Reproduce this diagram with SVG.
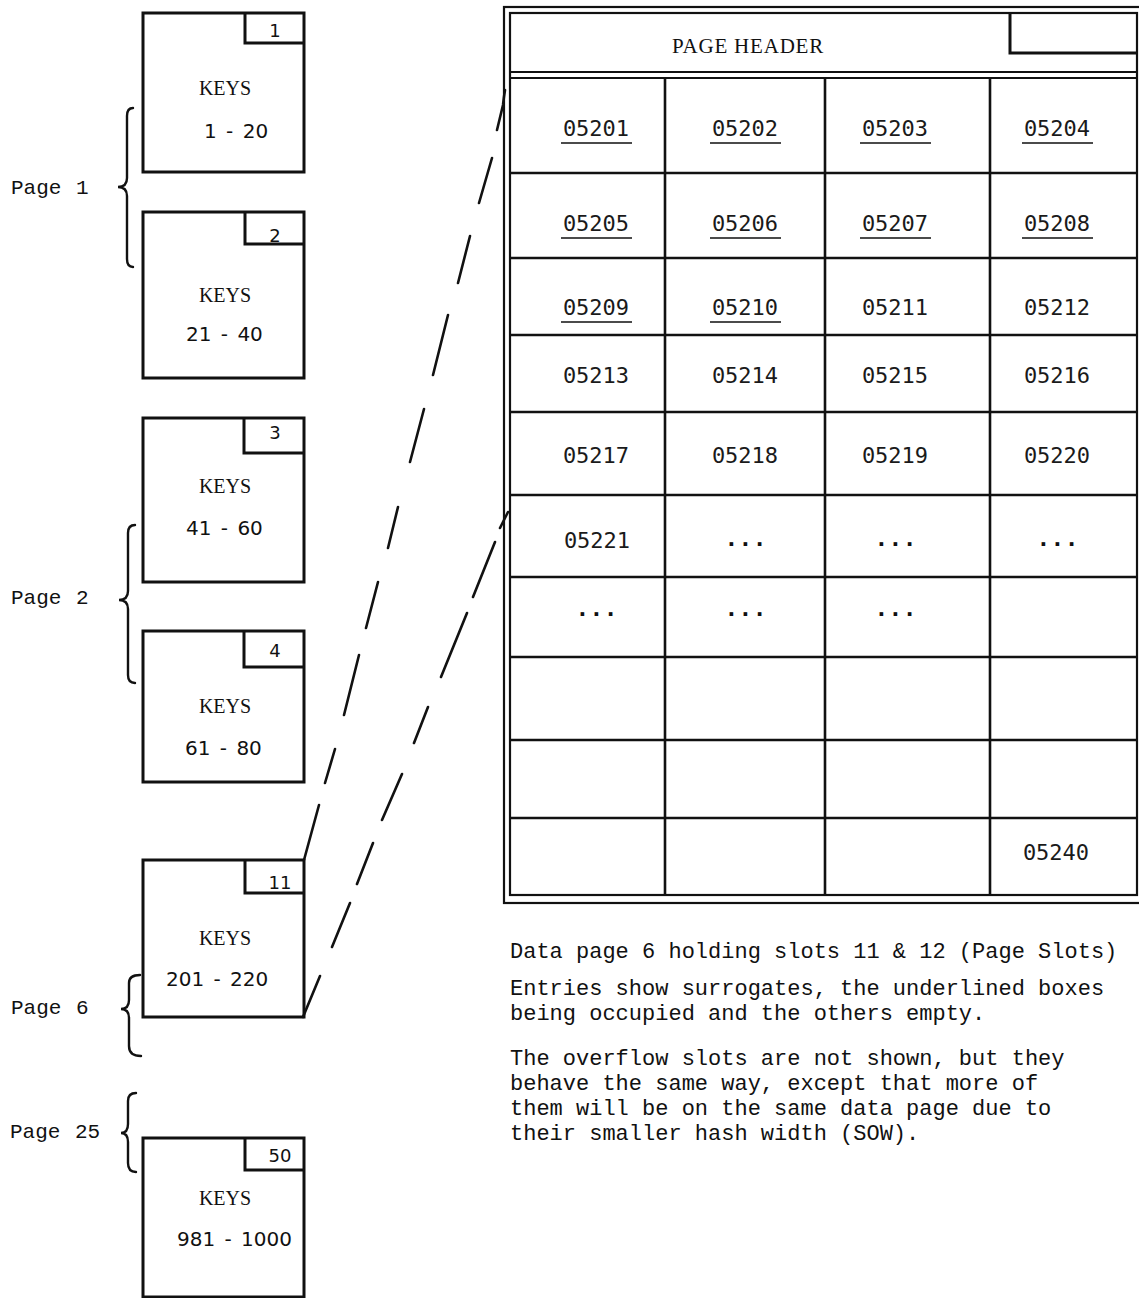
<svg xmlns="http://www.w3.org/2000/svg" width="1139" height="1298" viewBox="0 0 1139 1298">
<style>
.bx{fill:#fff;stroke:#111;stroke-width:3;stroke-linejoin:miter}
.ln{fill:none;stroke:#111;stroke-width:3}
.gl{fill:none;stroke:#111;stroke-width:2.6}
.db{fill:none;stroke:#111;stroke-width:2.2}
.keys{font-family:"Liberation Serif",serif;font-size:20px;fill:#111;text-anchor:middle}
.rng{font-family:"DejaVu Sans",sans-serif;font-size:20px;fill:#111;word-spacing:3px}
.num{font-family:"DejaVu Sans",sans-serif;font-size:18px;fill:#111;text-anchor:middle}
.pg{font-family:"Liberation Mono",monospace;font-size:21px;fill:#111;word-spacing:2px}
.cell{font-family:"DejaVu Sans Mono",monospace;font-size:22px;fill:#1a1a1a;text-anchor:middle}
.dots{font-family:"DejaVu Sans Mono",monospace;font-size:22px;font-weight:bold;fill:#111;text-anchor:middle;letter-spacing:1px}
.ul{stroke:#111;stroke-width:1.7}
.note{font-family:"Liberation Mono",monospace;font-size:22px;fill:#111}
.hdr{font-family:"Liberation Serif",serif;font-size:21px;fill:#111;text-anchor:middle;letter-spacing:0.8px}
.brace{fill:none;stroke:#111;stroke-width:2.4;stroke-linecap:round}
.conn{fill:none;stroke:#111;stroke-width:2.6;stroke-linecap:round}
</style>

<!-- key boxes -->
<g id="box1">
<rect class="bx" x="143" y="13" width="161" height="159"/>
<path class="ln" d="M245 13V43H304"/>
<text class="num" x="275" y="37">1</text>
<text class="keys" x="225" y="95">KEYS</text>
<text class="rng" x="204" y="138">1 - 20</text>
</g>
<g id="box2">
<rect class="bx" x="143" y="212" width="161" height="166"/>
<path class="ln" d="M245 212V244H304"/>
<text class="num" x="275" y="242">2</text>
<text class="keys" x="225" y="302">KEYS</text>
<text class="rng" x="186" y="341">21 - 40</text>
</g>
<g id="box3">
<rect class="bx" x="143" y="418" width="161" height="164"/>
<path class="ln" d="M244 418V453H304"/>
<text class="num" x="275" y="439">3</text>
<text class="keys" x="225" y="493">KEYS</text>
<text class="rng" x="186" y="535">41 - 60</text>
</g>
<g id="box4">
<rect class="bx" x="143" y="631" width="161" height="151"/>
<path class="ln" d="M244 631V667H304"/>
<text class="num" x="275" y="657">4</text>
<text class="keys" x="225" y="713">KEYS</text>
<text class="rng" x="185" y="755">61 - 80</text>
</g>
<g id="box11">
<rect class="bx" x="143" y="860" width="161" height="157"/>
<path class="ln" d="M245 860V893H304"/>
<text class="num" x="280" y="889">11</text>
<text class="keys" x="225" y="945">KEYS</text>
<text class="rng" x="166" y="986">201 - 220</text>
</g>
<g id="box50">
<rect class="bx" x="143" y="1138" width="161" height="159"/>
<path class="ln" d="M245 1138V1170H304"/>
<text class="num" x="280" y="1162">50</text>
<text class="keys" x="225" y="1205">KEYS</text>
<text class="rng" x="177" y="1246">981 - 1000</text>
</g>

<!-- page braces -->
<g id="page1">
<path class="brace" d="M133 108Q127 108 127 116V178Q127 187 118 187Q127 187 127 196V259Q127 267 133 267"/>
<text class="pg" x="11" y="194">Page 1</text>
</g>
<g id="page2">
<path class="brace" d="M135 525Q128 525 128 533V591Q128 600 119 600Q128 600 128 609V675Q128 683 135 683"/>
<text class="pg" x="11" y="604">Page 2</text>
</g>
<g id="page6">
<path class="brace" d="M140 975Q129 975 129 983V1000Q129 1009 121 1009Q129 1009 129 1018V1046Q129 1056 141 1056"/>
<text class="pg" x="11" y="1014">Page 6</text>
</g>
<g id="page25">
<path class="brace" d="M136 1093Q128 1093 128 1101V1124Q128 1133 121 1133Q128 1133 128 1142V1163Q128 1172 136 1172"/>
<text class="pg" x="10" y="1138">Page 25</text>
</g>

<!-- data page -->
<g id="datapage">
<rect class="db" x="504" y="7" width="645" height="896"/>
<rect class="db" x="510" y="13" width="627" height="882"/>
<path class="db" d="M510 72H1137M510 78H1137"/>
<path class="ln" d="M1010 13V53H1137"/>
<text class="hdr" x="748" y="53">PAGE HEADER</text>
<path class="gl" d="M665 78V895M825 78V895M990 78V895"/>
<path class="gl" d="M510 173H1137M510 258H1137M510 335H1137M510 412H1137M510 495H1137M510 577H1137M510 657H1137M510 740H1137M510 818H1137"/>
</g>

<g id="cells">
<text class="cell" x="596" y="136">05201</text>
<text class="cell" x="745" y="136">05202</text>
<text class="cell" x="895" y="136">05203</text>
<text class="cell" x="1057" y="136">05204</text>
<text class="cell" x="596" y="231">05205</text>
<text class="cell" x="745" y="231">05206</text>
<text class="cell" x="895" y="231">05207</text>
<text class="cell" x="1057" y="231">05208</text>
<text class="cell" x="596" y="315">05209</text>
<text class="cell" x="745" y="315">05210</text>
<text class="cell" x="895" y="315">05211</text>
<text class="cell" x="1057" y="315">05212</text>
<text class="cell" x="596" y="383">05213</text>
<text class="cell" x="745" y="383">05214</text>
<text class="cell" x="895" y="383">05215</text>
<text class="cell" x="1057" y="383">05216</text>
<text class="cell" x="596" y="463">05217</text>
<text class="cell" x="745" y="463">05218</text>
<text class="cell" x="895" y="463">05219</text>
<text class="cell" x="1057" y="463">05220</text>
<text class="cell" x="597" y="548">05221</text>
<text class="dots" x="746" y="546">...</text>
<text class="dots" x="896" y="546">...</text>
<text class="dots" x="1058" y="546">...</text>
<text class="dots" x="597" y="616">...</text>
<text class="dots" x="746" y="616">...</text>
<text class="dots" x="896" y="616">...</text>
<text class="cell" x="1056" y="860">05240</text>
<path class="ul" d="M561 143H632M710 143H781M860 143H931M1022 143H1093M561 238H632M710 238H781M860 238H931M1022 238H1093M561 322H632M710 322H781"/>
</g>

<g id="notes">
<text class="note" x="510" y="958">Data page 6 holding slots 11 &amp; 12 (Page Slots)</text>
<text class="note" x="510" y="995">Entries show surrogates, the underlined boxes</text>
<text class="note" x="510" y="1020">being occupied and the others empty.</text>
<text class="note" x="510" y="1065">The overflow slots are not shown, but they</text>
<text class="note" x="510" y="1090">behave the same way, except that more of</text>
<text class="note" x="510" y="1115">them will be on the same data page due to</text>
<text class="note" x="510" y="1140">their smaller hash width (SOW).</text>
</g>

<g id="connectors">
<path class="conn" d="M304 860L319 805M325 783L335 749M344 715L359 655M366 628L378 582M388 548L398 507M410 462L424 409M433 375L448 315M458 283L470 236M479 203L492 158M497 130L503 105Q504 96 505 90"/>
<path class="conn" d="M303 1017L320 976M332 947L350 903M357 884L373 843M382 820L402 774M414 743L428 707M441 677L467 613M473 597L495 542M500 528L508 512"/>
</g>
</svg>
